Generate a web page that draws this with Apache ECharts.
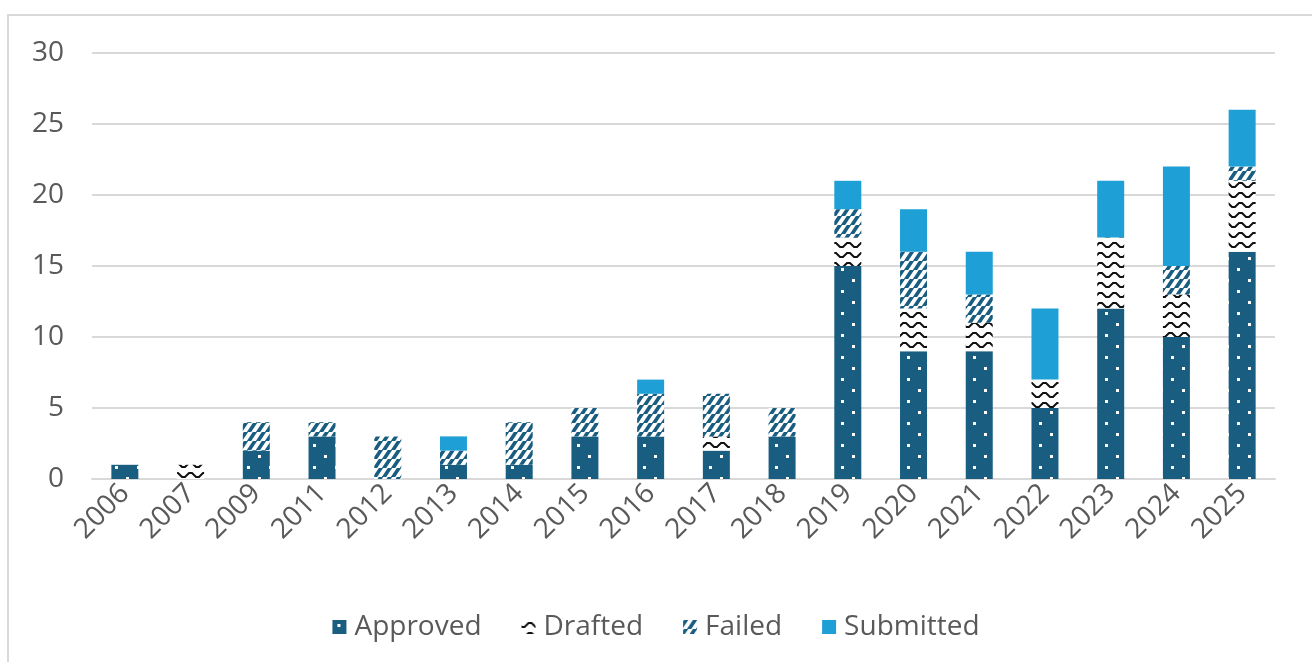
<!DOCTYPE html>
<html>
<head>
<meta charset="utf-8">
<script src="https://cdn.jsdelivr.net/npm/echarts@6/dist/echarts.min.js"></script>
<style>html,body{margin:0;padding:0;background:#fff}#c{width:1312px;height:662px}</style>
</head>
<body>
<div id="c"></div>
<script>
const categories = ['2006','2007','2009','2011','2012','2013','2014','2015','2016','2017','2018','2019','2020','2021','2022','2023','2024','2025'];
const approved  = [1,0,2,3,0,1,1,3,3,2,3,15,9,9,5,12,10,16];
const drafted   = [0,1,0,0,0,0,0,0,0,1,0,2,3,2,2,5,3,5];
const failed    = [0,0,2,1,3,1,3,2,3,3,2,2,4,2,0,0,2,1];
const submitted = [0,0,0,0,0,1,0,0,1,0,0,2,3,3,5,4,7,4];
const yTicks = [0,5,10,15,20,25,30];

const DARK = '#195E80', LIGHT = '#1E9FD6';
function tile(w,h,draw){const c=document.createElement('canvas');c.width=w;c.height=h;const g=c.getContext('2d');draw(g);return c;}
const dotPat = tile(22,22,g=>{g.fillStyle=DARK;g.fillRect(0,0,22,22);g.fillStyle='#fff';g.fillRect(5,4,3,3);g.fillRect(16,15,3,3);});
const zigPat = tile(14,10,g=>{g.fillStyle='#fff';g.fillRect(0,0,14,10);g.strokeStyle='#111';g.lineWidth=2;g.beginPath();g.moveTo(-4,3);g.lineTo(0,7);g.lineTo(3,7);g.lineTo(7,3);g.lineTo(10,3);g.lineTo(14,7);g.lineTo(17,7);g.stroke();});
const stripePat = tile(9,9,g=>{g.fillStyle='#fff';g.fillRect(0,0,9,9);g.strokeStyle=DARK;g.lineWidth=3.6;g.beginPath();for(let c=-9;c<=27;c+=9){g.moveTo(c-9,9+9);g.lineTo(c+9,-9);}g.stroke();});

const font = '"Open Sans", Roboto, sans-serif';
const chart = echarts.init(document.getElementById('c'));
function s(name,data,fill){return {name,type:'bar',stack:'t',data,barWidth:27,itemStyle:{color:fill},emphasis:{disabled:true}};}
chart.setOption({
  animation:false,
  graphic:[{type:'rect',shape:{x:8,y:15,width:1320,height:720},style:{fill:'none',stroke:'#d9d9d9',lineWidth:2},silent:true,z:-1}],
  grid:{left:92,right:37,top:53,bottom:183},
  legend:{bottom:16,left:'center',itemWidth:14,itemHeight:14,itemGap:40,icon:'rect',
    textStyle:{fontSize:28,color:'#595959',fontFamily:font,padding:[0,0,0,3]},
    data:['Approved','Drafted','Failed','Submitted']},
  xAxis:{type:'category',data:categories,axisTick:{show:false},
    axisLine:{lineStyle:{color:'#d9d9d9',width:2}},
    axisLabel:{rotate:45,fontSize:28,color:'#595959',fontFamily:font,margin:10,interval:0}},
  yAxis:{type:'value',min:0,max:30,interval:5,
    axisLabel:{fontSize:28,color:'#595959',fontFamily:font,margin:28,formatter:v=>yTicks.includes(v)?String(v):''},
    splitLine:{lineStyle:{color:'#d9d9d9',width:2}}},
  series:[
    s('Approved',approved,{image:dotPat,repeat:'repeat'}),
    s('Drafted',drafted,{image:zigPat,repeat:'repeat'}),
    s('Failed',failed,{image:stripePat,repeat:'repeat'}),
    s('Submitted',submitted,LIGHT)
  ]
});
</script>
</body>
</html>
